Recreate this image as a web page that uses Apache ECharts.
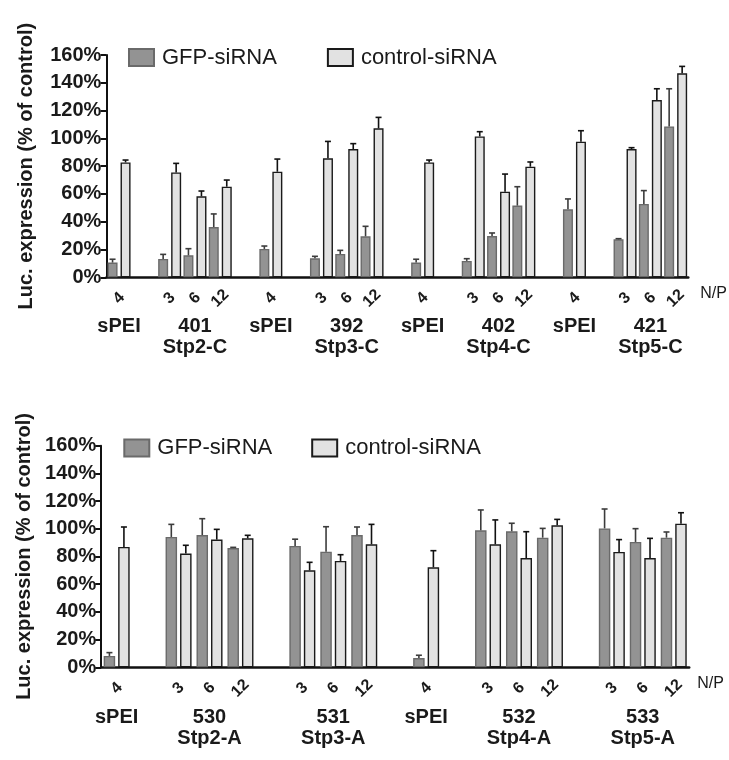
<!DOCTYPE html>
<html><head><meta charset="utf-8">
<script src="https://cdn.jsdelivr.net/npm/echarts@6/dist/echarts.min.js"></script>
<style>html,body{margin:0;padding:0;background:#fff}#c{width:729px;height:760px}</style>
</head><body><div id="c"></div>
<script>
// ---------- data: top chart (C series) ----------
const topNP = ['4','','3','6','12','','4','','3','6','12','','4','','3','6','12','','4','','3','6','12'];
const topGroups = ['sPEI','','','401\nStp2-C','','','sPEI','','','392\nStp3-C','','','sPEI','','','402\nStp4-C','','','sPEI','','','421\nStp5-C',''];
const topGFP     = [10.6,null,13.2,15.8,36.2,null,20.4,null,13.7,16.8,29.5,null,10.6,null,11.8,29.7,51.6,null,48.9,null,27.3,52.8,108.6];
const topGFPErr  = [13.0,null,16.5,20.6,45.6,null,22.5,null,15.1,19.4,36.7,null,13.0,null,13.4,31.9,65.2,null,56.4,null,27.8,62.4,135.7];
const topCtrl    = [82.7,null,75.5,58.3,65.2,null,76.0,null,85.6,92.3,107.2,null,82.7,null,101.4,61.6,79.6,null,97.6,null,92.3,127.6,146.8];
const topCtrlErr = [84.4,null,82.0,62.1,70.0,null,85.1,null,97.8,96.2,115.1,null,84.4,null,104.8,74.3,83.0,null,105.5,null,93.3,135.7,151.8];

// ---------- data: bottom chart (A series) ----------
const botNP = ['4','','3','6','12','','3','6','12','','4','','3','6','12','','3','6','12'];
const botGroups = ['sPEI','','','530\nStp2-A','','','','531\nStp3-A','','','sPEI','','','532\nStp4-A','','','','533\nStp5-A',''];
const botGFP     = [8.2,null,94.1,95.5,86.1,null,87.6,83.5,95.5,null,6.7,null,98.9,98.2,93.6,null,100.3,90.5,93.6];
const botGFPErr  = [10.6,null,103.2,107.3,86.6,null,92.5,101.5,101.3,null,8.7,null,113.6,104.0,100.3,null,114.3,100.1,97.7];
const botCtrl    = [86.9,null,82.1,92.2,93.1,null,70.0,76.8,88.8,null,72.2,null,88.8,78.9,102.5,null,83.3,78.9,103.7];
const botCtrlErr = [101.3,null,88.1,99.6,95.3,null,75.8,81.3,103.2,null,84.2,null,106.4,97.9,106.8,null,92.2,93.1,111.6];

const yTicks = {min:0, max:160, interval:20};
const seriesNames = ['GFP-siRNA','control-siRNA'];

// ---------- styles ----------
const FF = '"Liberation Sans", Arial, sans-serif';
const TXT = '#1a1a1a';
const GFP_FILL = '#939393', GFP_BORDER = '#6a6a6a', GFP_ERR = '#3c3c3c';
const CTRL_FILL = '#e2e2e2', CTRL_BORDER = '#1a1a1a', CTRL_ERR = '#111';

const chart = echarts.init(document.getElementById('c'), null, {renderer:'canvas'});

function errSeries(name, vals, errs, xi, yi, side, barW, gap, color) {
  const data = [];
  vals.forEach((v, i) => { if (v != null) data.push([i, v, errs[i]]); });
  return {
    type:'custom', name, xAxisIndex:xi, yAxisIndex:yi, z:5, silent:true,
    encode:{x:0, y:[1,2]}, data,
    renderItem(params, api) {
      const i = api.value(0);
      const lo = api.coord([i, api.value(1)]);
      const hi = api.coord([i, api.value(2)]);
      const x = lo[0] + side * (barW + gap) / 2;
      const cap = 3;
      return {type:'group', children:[
        {type:'line', shape:{x1:x, y1:lo[1], x2:x, y2:hi[1]}, style:{stroke:color, lineWidth:1.6}},
        {type:'line', shape:{x1:x-cap, y1:hi[1], x2:x+cap, y2:hi[1]}, style:{stroke:color, lineWidth:1.6}}
      ]};
    }
  };
}

function mainX(grid, data, nameGap) {
  return {
    gridIndex:grid, type:'category', data, boundaryGap:true,
    axisLine:{lineStyle:{color:'#111', width:2.5}},
    axisTick:{alignWithLabel:true, interval:0, length:6, lineStyle:{color:'#111', width:2}},
    axisLabel:{interval:0, rotate:45, align:'center', verticalAlign:'middle', margin:21,
      fontSize:16, fontWeight:'bold', color:TXT, fontFamily:FF},
    name:'N/P', nameLocation:'end', nameGap,
    nameTextStyle:{fontSize:16, color:TXT, fontFamily:FF, verticalAlign:'top', padding:[8,0,0,0]}
  };
}
function groupX(grid, data, margin) {
  return {
    gridIndex:grid, type:'category', data, boundaryGap:true, position:'bottom',
    axisLine:{show:false}, axisTick:{show:false}, splitLine:{show:false},
    axisLabel:{interval:0, margin, fontSize:20, fontWeight:'bold', color:TXT, fontFamily:FF, lineHeight:21, align:'center'}
  };
}
function valY(grid, nameGap) {
  return {
    gridIndex:grid, type:'value', min:yTicks.min, max:yTicks.max, interval:yTicks.interval,
    axisLine:{show:true, lineStyle:{color:'#111', width:2}},
    axisTick:{show:true, length:6, lineStyle:{color:'#111', width:2}},
    splitLine:{show:false},
    axisLabel:{formatter:'{value}%', fontSize:20, fontWeight:'bold', color:TXT, fontFamily:FF, margin:5},
    name:'Luc. expression (% of control)', nameLocation:'middle', nameGap,
    nameTextStyle:{fontSize:20, fontWeight:'bold', color:TXT, fontFamily:FF}
  };
}
function bar(name, vals, xi, yi, fill, border, bw, gap) {
  return {type:'bar', name, data:vals, xAxisIndex:xi, yAxisIndex:yi, barWidth:bw, barGap:gap,
    itemStyle:{color:fill, borderColor:border, borderWidth:1.4}, silent:true};
}
function legend(left, top, gap, pad) {
  return {data:seriesNames, left, top, itemWidth:25, itemHeight:17, itemGap:gap, icon:'rect', selectedMode:false,
    textStyle:{fontSize:22, color:TXT, fontFamily:FF, padding:[0,0,0,pad]}};
}

const TBW = 10, TGAP = 3, BBW = 11.5, BGAP = 3;

chart.setOption({
  animation:false,
  backgroundColor:'#fff',
  grid:[
    {left:106.4, right:40.7, top:55, height:222.3},
    {left:101.2, right:39.8, top:445.7, height:221.6}
  ],
  legend:[legend(123, 41.5, 50, 3), legend(118.3, 432, 39, 3)],
  xAxis:[mainX(0, topNP, 12), groupX(0, topGroups, 39), mainX(1, botNP, 8), groupX(1, botGroups, 40)],
  yAxis:[valY(0, 70), valY(1, 66)],
  series:[
    bar('GFP-siRNA', topGFP, 0, 0, GFP_FILL, GFP_BORDER, TBW, (TGAP/TBW*100)+'%'),
    bar('control-siRNA', topCtrl, 0, 0, CTRL_FILL, CTRL_BORDER, TBW, (TGAP/TBW*100)+'%'),
    errSeries('gfp-err-top', topGFP, topGFPErr, 0, 0, -1, TBW, TGAP, GFP_ERR),
    errSeries('ctrl-err-top', topCtrl, topCtrlErr, 0, 0, 1, TBW, TGAP, CTRL_ERR),
    bar('GFP-siRNA', botGFP, 2, 1, GFP_FILL, GFP_BORDER, BBW, (BGAP/BBW*100)+'%'),
    bar('control-siRNA', botCtrl, 2, 1, CTRL_FILL, CTRL_BORDER, BBW, (BGAP/BBW*100)+'%'),
    errSeries('gfp-err-bot', botGFP, botGFPErr, 2, 1, -1, BBW, BGAP, GFP_ERR),
    errSeries('ctrl-err-bot', botCtrl, botCtrlErr, 2, 1, 1, BBW, BGAP, CTRL_ERR)
  ]
});
</script>
</body></html>
